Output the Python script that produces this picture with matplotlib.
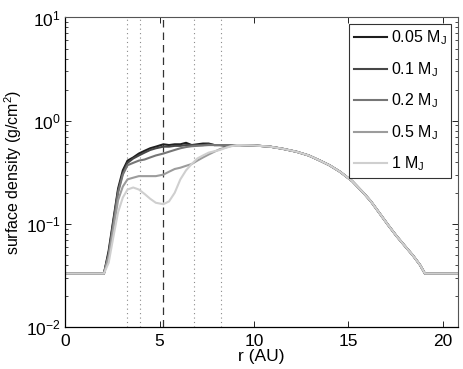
import numpy as np
import matplotlib.pyplot as plt
from matplotlib.ticker import FixedLocator, LogLocator, NullFormatter

plt.rcParams['font.family'] = ['Liberation Sans', 'DejaVu Sans']
plt.rcParams['mathtext.fontset'] = 'custom'
plt.rcParams['mathtext.rm'] = 'Liberation Sans'
plt.rcParams['mathtext.it'] = 'Liberation Sans'

# radius grid for the inner (gap) region, AU
r_inner = [0.0, 2.05, 2.3, 2.55, 2.8, 3.05, 3.3, 3.6, 3.9, 4.2, 4.5, 4.8, 5.2,
           5.5, 5.8, 6.1, 6.4, 6.7, 7.0, 7.3, 7.6, 7.9, 8.2, 8.5, 8.8, 9.1]

# surface density (g/cm^2) in the inner region for each planet mass
sigma_005 = [0.033, 0.033, 0.055, 0.11, 0.22, 0.33, 0.41, 0.44, 0.48, 0.51, 0.54, 0.56, 0.59,
             0.58, 0.59, 0.59, 0.61, 0.58, 0.59, 0.60, 0.60, 0.58, 0.58, 0.57, 0.58, 0.58]
sigma_01 = [0.033, 0.033, 0.052, 0.105, 0.21, 0.31, 0.39, 0.43, 0.46, 0.49, 0.52, 0.54, 0.56,
            0.56, 0.57, 0.57, 0.58, 0.58, 0.58, 0.58, 0.59, 0.58, 0.58, 0.58, 0.58, 0.58]
sigma_02 = [0.033, 0.033, 0.050, 0.10, 0.20, 0.30, 0.37, 0.39, 0.41, 0.42, 0.44, 0.46, 0.48,
            0.50, 0.52, 0.54, 0.555, 0.565, 0.57, 0.575, 0.58, 0.58, 0.58, 0.58, 0.58, 0.58]
sigma_05 = [0.033, 0.033, 0.048, 0.09, 0.17, 0.23, 0.27, 0.28, 0.29, 0.29, 0.29, 0.29, 0.30,
            0.32, 0.34, 0.35, 0.365, 0.38, 0.41, 0.44, 0.47, 0.50, 0.53, 0.55, 0.57, 0.58]
sigma_1 = [0.033, 0.033, 0.042, 0.075, 0.13, 0.18, 0.215, 0.225, 0.215, 0.195, 0.175, 0.16, 0.155,
           0.165, 0.20, 0.27, 0.33, 0.38, 0.43, 0.46, 0.49, 0.505, 0.52, 0.545, 0.565, 0.58]

# outer disc, where all runs coincide
r_outer = [9.25, 10.0, 10.85, 11.5, 12.25, 12.9, 13.5, 14.0, 14.56, 15.2, 15.8, 16.2,
           16.68, 17.1, 17.56, 18.0, 18.44, 18.8, 19.06, 20.8]
sigma_outer = [0.58, 0.575, 0.56, 0.535, 0.50, 0.46, 0.41, 0.37, 0.32, 0.26, 0.20, 0.165,
               0.125, 0.098, 0.076, 0.061, 0.049, 0.040, 0.033, 0.033]

labels = ['0.05 M$_\\mathregular{J}$', '0.1 M$_\\mathregular{J}$', '0.2 M$_\\mathregular{J}$',
          '0.5 M$_\\mathregular{J}$', '1 M$_\\mathregular{J}$']
colors = ['#1e1e1e', '#474747', '#767676', '#9c9c9c', '#cfcfcf']

# planet position and mean-motion resonances (AU)
r_planet = 5.2
r_resonances = [3.28, 3.97, 6.81, 8.25]

fig = plt.figure(figsize=(4.63, 3.69), dpi=100)
ax = fig.add_axes([0.141, 0.1138, 0.8476, 0.8388])

for rr in r_resonances:
    ax.axvline(rr, color='#8a8a8a', ls=(0, (1, 3)), lw=0.8)
ax.axvline(r_planet, color='#333333', ls=(0, (6, 4)), lw=0.9)

for sig, lab, col in zip([sigma_005, sigma_01, sigma_02, sigma_05, sigma_1], labels, colors):
    ax.plot(r_inner + r_outer, sig + sigma_outer, color=col, lw=1.5, label=lab)

ax.set_yscale('log')
ax.set_xlim(0, 20.8)
ax.set_ylim(1e-2, 1e1)
ax.xaxis.set_major_locator(FixedLocator([0, 5, 10, 15, 20]))
ax.yaxis.set_major_locator(LogLocator(base=10, numticks=10))
ax.yaxis.set_minor_locator(LogLocator(base=10, subs=np.arange(2, 10), numticks=10))
ax.yaxis.set_minor_formatter(NullFormatter())
ax.tick_params(which='both', direction='in', top=True, right=True, labelsize=12.5)
ax.tick_params(axis='x', which='major', pad=5)
ax.tick_params(axis='y', which='major', pad=3)
ax.tick_params(which='major', length=4, width=0.6)
ax.tick_params(which='minor', length=2, width=0.5)
for side in ['top', 'right']:
    ax.spines[side].set_color('#555555')
for side in ['bottom', 'left']:
    ax.spines[side].set_linewidth(0.9)

ax.set_xlabel('r (AU)', fontsize=12.5, labelpad=0)
ax.set_ylabel('surface density (g/cm$^\\mathregular{2}$)', fontsize=11.5, labelpad=2)

leg = ax.legend(loc='upper right', fontsize=11.5, frameon=True, fancybox=False,
                edgecolor='black', handlelength=2.1, handletextpad=0.2,
                labelspacing=0.8, borderaxespad=0.4, borderpad=0.3)
leg.get_frame().set_linewidth(0.8)

fig.savefig('out.png', dpi=100)
